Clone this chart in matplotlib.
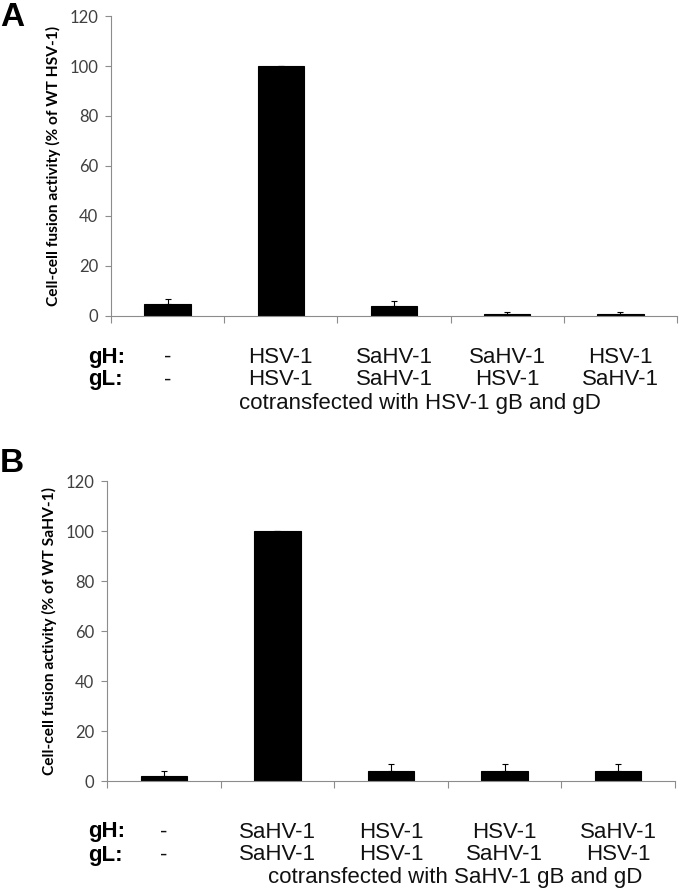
import numpy as np
import matplotlib
matplotlib.use('Agg')
import matplotlib.pyplot as plt
from matplotlib import transforms

# Panel A: cotransfected with HSV-1 gB and gD
a_values = [5, 100, 4, 1, 1]
a_errors = [2, 0, 2, 0.6, 0.6]
a_gh = ['-', 'HSV-1', 'SaHV-1', 'SaHV-1', 'HSV-1']
a_gl = ['-', 'HSV-1', 'SaHV-1', 'HSV-1', 'SaHV-1']
a_ylabel = 'Cell-cell fusion activity (% of WT HSV-1)'
a_note = 'cotransfected with HSV-1 gB and gD'

# Panel B: cotransfected with SaHV-1 gB and gD
b_values = [2, 100, 4, 4, 4]
b_errors = [2, 0, 3, 3, 3]
b_gh = ['-', 'SaHV-1', 'HSV-1', 'HSV-1', 'SaHV-1']
b_gl = ['-', 'SaHV-1', 'HSV-1', 'SaHV-1', 'HSV-1']
b_ylabel = 'Cell-cell fusion activity (% of WT SaHV-1)'
b_note = 'cotransfected with SaHV-1 gB and gD'

yticks = [0, 20, 40, 60, 80, 100, 120]

W, H = 680, 890
fig = plt.figure(figsize=(W / 100, H / 100), dpi=100)

TICK_FONT = ['Lato', 'DejaVu Sans']
CAT_FONT = ['Liberation Sans', 'DejaVu Sans']
GREY = '#8c8c8c'


def draw_panel(rect, values, errors, gh, gl, ylabel, note, letter, rows_px, letter_px, note_x):
    ax = fig.add_axes(rect)
    x = np.arange(len(values))
    ax.bar(x, values, width=0.41, color='black', edgecolor='black', linewidth=0.8, zorder=2)
    ax.errorbar(x, values, yerr=[np.zeros(len(errors)), errors], fmt='none',
                ecolor='black', elinewidth=0.8, capsize=2, capthick=0.8, zorder=3)
    ax.set_xlim(-0.5, len(values) - 0.5)
    ax.set_ylim(0, 120)
    ax.set_yticks(yticks)
    ax.set_yticklabels([str(t) for t in yticks], family=TICK_FONT, fontsize=12, color='#404040')
    ax.tick_params(axis='y', length=4, width=0.8, color=GREY, pad=5)
    ax.set_xticks(np.arange(len(values) + 1) - 0.5)
    ax.set_xticklabels([])
    ax.tick_params(axis='x', length=5, width=0.8, color=GREY, direction='out')
    for s in ['top', 'right']:
        ax.spines[s].set_visible(False)
    for s in ['left', 'bottom']:
        ax.spines[s].set_color(GREY)
        ax.spines[s].set_linewidth(0.8)

    ax.set_ylabel(ylabel, family=TICK_FONT, fontsize=11.2, fontweight='bold', labelpad=6)

    trans = transforms.blended_transform_factory(ax.transData, fig.transFigure)
    y_gh, y_gl, y_note = [1 - p / H for p in rows_px]
    for i in x:
        ax.text(i, y_gh, gh[i], transform=trans, ha='center', va='center',
                family=CAT_FONT, fontsize=16, color='#111111')
        ax.text(i, y_gl, gl[i], transform=trans, ha='center', va='center',
                family=CAT_FONT, fontsize=16, color='#111111')
    fig.text(88 / W, y_gh, 'gH:', ha='left', va='center', family=CAT_FONT,
             fontsize=16, fontweight='bold')
    fig.text(88 / W, y_gl, 'gL:', ha='left', va='center', family=CAT_FONT,
             fontsize=16, fontweight='bold')
    fig.text(note_x / W, y_note, note, ha='center', va='center', family=CAT_FONT,
             fontsize=16, color='#111111')

    fig.text(letter_px[0] / W, 1 - letter_px[1] / H, letter, ha='left', va='center',
             family=['Liberation Sans', 'DejaVu Sans'], fontsize=24, fontweight='bold')
    return ax


draw_panel([111 / W, 1 - 316 / H, 566 / W, 300 / H], a_values, a_errors, a_gh, a_gl,
           a_ylabel, a_note, 'A', (357, 380, 403), (0, 18), 420)
draw_panel([107 / W, 1 - 781 / H, 568 / W, 300 / H], b_values, b_errors, b_gh, b_gl,
           b_ylabel, b_note, 'B', (832, 855, 878), (0, 464), 455)

fig.savefig('out.png', dpi=100)
